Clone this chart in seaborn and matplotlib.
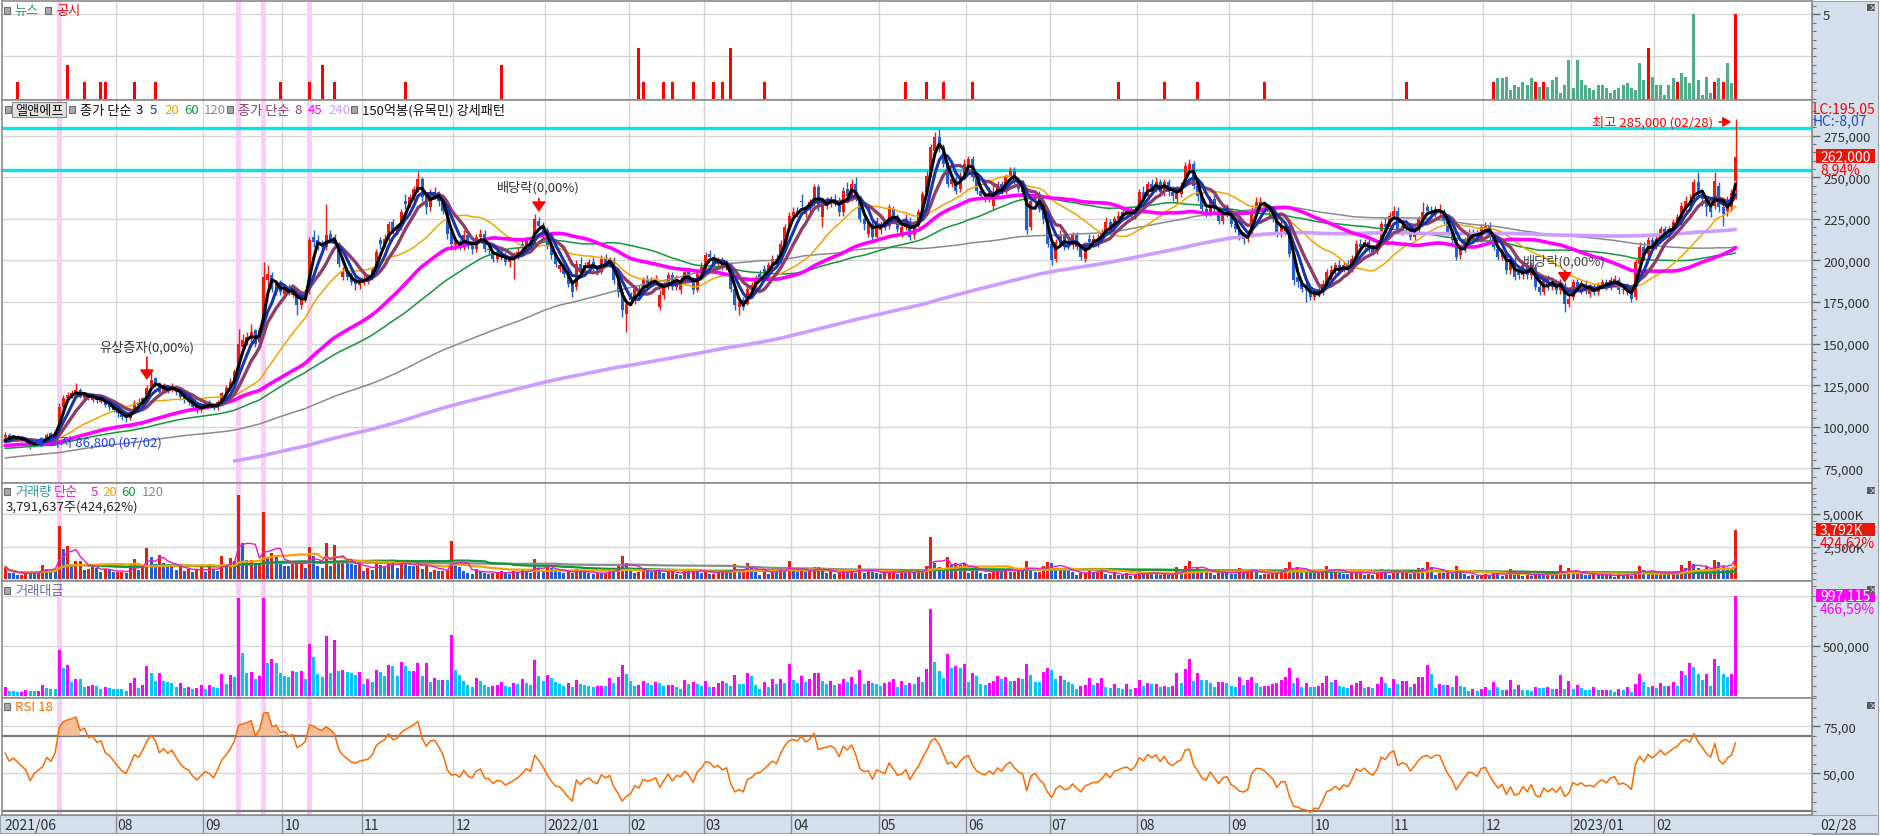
import numpy as np
import pandas as pd
import matplotlib
matplotlib.use("Agg")
import matplotlib.pyplot as plt
from matplotlib.patches import Rectangle
from matplotlib.lines import Line2D
from matplotlib.ticker import MultipleLocator, FixedLocator, FuncFormatter
import seaborn as sns

sns.set_theme(style="white")
plt.rcParams['font.family'] = ['Noto Sans CJK KR', 'DejaVu Sans']
plt.rcParams['axes.unicode_minus'] = False

# 월별 거래일 수 (2021/06/24 ~ 2023/02/28)
MONTH_LABELS = ["2021/06", "", "08", "09", "10", "11", "12", "2022/01", "02", "03", "04", "05",
                "06", "07", "08", "09", "10", "11", "12", "2023/01", "02"]
MONTH_DAYS = [5, 22, 21, 19, 19, 22, 22, 20, 18, 21, 21, 21, 20, 21, 22, 20, 19, 22, 21, 20, 20]

# 화면 이전 종가 (천원) - 이동평균 계산용
PRIOR_CLOSE = [
    44, 43, 45, 44, 46, 45, 44, 46, 47, 46, 45, 44, 45, 47, 48, 47, 46, 45, 46, 47,
    48, 47, 49, 48, 47, 48, 50, 49, 48, 47, 46, 47, 48, 49, 48, 47, 48, 50, 51, 50,
    49, 48, 49, 50, 49, 51, 52, 51, 50, 52, 53, 52, 51, 50, 51, 53, 54, 53, 52, 54,
    55, 54, 53, 55, 56,
    58, 60, 59, 61, 63, 62, 64, 66, 65, 67, 66, 68, 70, 69, 71, 70, 72, 71, 73, 72,
    74, 73, 75, 77, 76, 74, 75, 77, 78, 76, 77, 79, 78, 80, 79, 78, 80, 82, 81, 79,
    80, 82, 83, 81, 82, 84, 83, 85, 84, 82, 83, 85, 86, 84, 85,
    84, 82, 81, 80, 79, 81, 83, 82, 80, 79, 78, 80, 81, 83, 82, 80, 82, 84, 83, 86,
    85, 87, 86, 88, 87, 85, 86, 88, 89, 87, 86, 85, 87, 88, 86, 85, 87, 89, 88, 86,
    87, 88, 86, 87, 88,
    88, 89, 91, 90, 92, 91, 93, 92, 90, 91, 92, 93, 91, 90, 92, 91, 89, 90, 91,
]

# 일봉 시가/고가/저가/종가 (천원), 월 단위 줄
OPEN = [
    94, 95, 93, 94, 93,
    92, 91, 88, 90, 91, 92, 96, 94, 97, 112, 117, 119, 120, 122, 117, 119, 116, 118, 115, 117, 113, 112,
    110, 108, 106, 105, 109, 115, 113, 117, 123, 129, 126, 121, 124, 122, 124, 121, 118, 117, 115, 112, 110,
    112, 115, 113, 111, 115, 120, 123, 127, 134, 148, 151, 153, 158, 151, 158, 188, 191, 181, 186,
    180, 184, 179, 182, 173, 176, 182, 214, 212, 209, 208, 216, 214, 210, 190, 194, 191, 189, 185,
    187, 188, 190, 194, 212, 210, 213, 223, 217, 220, 236, 234, 238, 243, 249, 239, 232, 240, 241, 236, 230, 217,
    209, 211, 208, 215, 209, 207, 214, 216, 207, 204, 201, 205, 203, 199, 201, 203, 210, 208, 211, 210, 224, 221,
    218, 209, 203, 195, 197, 192, 186, 184, 198, 193, 197, 199, 195, 193, 201, 198, 200, 188, 181, 168,
    178, 176, 183, 180, 188, 186, 187, 172, 179, 185, 191, 184, 182, 188, 193, 189, 182, 192,
    196, 204, 202, 198, 200, 196, 198, 183, 172, 176, 174, 182, 185, 192, 195, 193, 197, 201, 199, 210, 220,
    227, 230, 236, 228, 231, 235, 244, 226, 233, 234, 237, 236, 229, 243, 238, 246, 237, 225, 216, 222, 214,
    218, 223, 221, 231, 226, 216, 220, 224, 215, 222, 230, 241, 252, 266, 274, 268, 257, 246, 249, 243, 252,
    257, 261, 249, 242, 239, 237, 233, 239, 246, 242, 250, 254, 248, 243, 240, 220, 237, 240, 231, 225,
    210, 201, 210, 215, 211, 209, 215, 208, 201, 213, 211, 210, 213, 217, 223, 219, 225, 227, 229, 230, 227,
    231, 241, 239, 246, 243, 247, 241, 247, 241, 237, 240, 248, 255, 258, 245, 239, 231, 229, 237, 231, 224, 228,
    229, 222, 219, 215, 213, 216, 230, 233, 231, 232, 229, 225, 216, 217, 221, 203, 190, 186, 185, 182,
    178, 183, 181, 186, 190, 194, 197, 195, 198, 195, 201, 210, 208, 211, 207, 206, 212, 222, 220,
    227, 230, 217, 222, 220, 214, 219, 225, 232, 230, 228, 229, 229, 224, 217, 212, 203, 207, 212, 217, 216, 213,
    218, 221, 214, 207, 202, 204, 194, 200, 194, 191, 197, 191, 196, 184, 181, 189, 184, 187, 182, 185, 174,
    178, 187, 182, 186, 180, 183, 181, 185, 187, 184, 187, 188, 182, 183, 181, 178, 198, 208, 204, 212,
    209, 213, 219, 215, 219, 223, 223, 232, 233, 237, 247, 241, 237, 232, 233, 245, 232, 230, 232, 248,
]
HIGH = [
    97, 96, 95, 95, 94,
    93, 92, 91, 92, 93, 96, 97, 98, 114, 119, 121, 122, 126, 123, 121, 120, 119, 119, 118, 118, 115, 113,
    111, 109, 107, 110, 116, 117, 118, 125, 133, 130, 127, 126, 125, 126, 125, 122, 119, 118, 116, 113, 114,
    116, 116, 114, 116, 121, 125, 129, 135, 159, 156, 157, 162, 159, 160, 199, 197, 193, 188, 188,
    185, 186, 184, 183, 178, 183, 214, 218, 215, 212, 234, 218, 216, 211, 196, 196, 193, 191, 190,
    191, 192, 196, 207, 214, 216, 224, 225, 222, 231, 240, 240, 245, 254, 250, 241, 243, 244, 242, 238, 232, 219,
    214, 213, 218, 217, 211, 216, 219, 218, 210, 206, 207, 207, 205, 203, 205, 208, 212, 214, 213, 228, 226, 223,
    220, 211, 205, 200, 199, 194, 188, 200, 202, 199, 201, 202, 197, 203, 204, 202, 202, 191, 183, 177,
    181, 185, 185, 190, 191, 190, 191, 182, 187, 193, 193, 191, 190, 196, 196, 190, 194, 199,
    205, 206, 204, 202, 202, 200, 199, 185, 177, 178, 185, 187, 191, 194, 197, 199, 203, 204, 212, 222, 229,
    232, 232, 240, 233, 237, 246, 246, 236, 238, 239, 240, 238, 244, 247, 249, 250, 239, 228, 225, 224, 226,
    224, 225, 234, 233, 228, 222, 228, 226, 224, 231, 242, 254, 270, 277, 279, 270, 259, 252, 251, 253, 261,
    263, 263, 251, 244, 241, 244, 246, 248, 248, 252, 256, 256, 250, 246, 242, 240, 242, 242, 233, 227,
    212, 213, 218, 217, 213, 217, 217, 210, 211, 216, 215, 216, 219, 226, 225, 227, 230, 231, 232, 232, 233,
    243, 245, 248, 249, 250, 249, 249, 249, 245, 245, 247, 259, 261, 260, 248, 241, 234, 239, 240, 233, 232, 234,
    231, 225, 221, 217, 217, 232, 238, 238, 236, 234, 231, 227, 224, 224, 223, 205, 193, 188, 187, 184,
    183, 185, 188, 195, 197, 199, 200, 199, 200, 203, 212, 213, 213, 213, 209, 212, 224, 226, 229,
    233, 232, 223, 224, 222, 221, 227, 235, 234, 233, 233, 234, 231, 226, 219, 214, 209, 214, 219, 219, 218, 222,
    223, 223, 216, 209, 207, 206, 202, 202, 196, 199, 199, 199, 198, 187, 191, 191, 189, 189, 189, 187, 180,
    189, 189, 188, 188, 186, 186, 187, 189, 189, 190, 191, 190, 185, 185, 183, 201, 211, 211, 214, 214,
    215, 221, 221, 221, 225, 228, 235, 239, 240, 249, 253, 243, 239, 236, 253, 247, 235, 239, 243, 285,
]
LOW = [
    93, 92, 92, 92, 91,
    90, 86.8, 88, 89, 90, 91, 93, 93, 96, 110, 115, 117, 119, 117, 115, 116, 115, 114, 114, 112, 110, 109,
    106, 104, 103, 104, 108, 111, 112, 116, 122, 124, 120, 120, 120, 121, 119, 116, 114, 113, 110, 108, 109,
    111, 112, 110, 110, 114, 119, 122, 126, 133, 146, 149, 151, 148, 150, 157, 184, 181, 179, 179,
    178, 179, 178, 167, 171, 175, 180, 208, 206, 205, 206, 211, 208, 196, 188, 188, 185, 182, 183,
    185, 186, 188, 193, 207, 208, 211, 216, 215, 218, 231, 232, 236, 241, 236, 228, 230, 237, 233, 228, 213, 206,
    206, 206, 206, 207, 204, 205, 212, 205, 203, 199, 199, 200, 197, 196, 189, 201, 206, 206, 208, 209, 219, 213,
    207, 201, 196, 193, 190, 184, 178, 182, 191, 191, 195, 193, 191, 192, 196, 196, 186, 178, 166, 157,
    173, 174, 178, 179, 184, 184, 185, 170, 177, 183, 182, 182, 180, 186, 187, 180, 181, 190,
    194, 200, 196, 196, 194, 194, 181, 170, 167, 170, 173, 180, 183, 188, 191, 191, 195, 196, 198, 208, 218,
    224, 226, 232, 226, 229, 233, 230, 220, 231, 232, 233, 227, 227, 237, 236, 236, 223, 218, 214, 211, 212,
    216, 218, 219, 224, 217, 214, 218, 212, 213, 220, 229, 239, 250, 264, 265, 256, 244, 244, 240, 241, 250,
    255, 248, 240, 237, 235, 235, 231, 237, 240, 240, 248, 246, 241, 239, 216, 218, 235, 229, 222, 208,
    197, 199, 208, 206, 207, 207, 206, 200, 199, 209, 209, 208, 211, 216, 216, 217, 223, 225, 227, 225, 225,
    229, 236, 237, 241, 241, 239, 239, 239, 236, 235, 238, 246, 253, 243, 236, 229, 226, 227, 229, 222, 222, 226,
    220, 217, 212, 210, 211, 214, 228, 231, 229, 227, 223, 214, 214, 215, 202, 185, 184, 181, 175, 176,
    176, 178, 179, 184, 188, 192, 191, 193, 193, 193, 199, 205, 206, 205, 203, 204, 210, 217, 218,
    225, 216, 215, 218, 212, 212, 217, 223, 228, 226, 226, 227, 222, 215, 209, 200, 201, 205, 210, 214, 211, 211,
    216, 212, 206, 200, 200, 192, 192, 188, 189, 189, 189, 189, 182, 179, 179, 182, 182, 180, 180, 169, 172,
    176, 182, 180, 180, 178, 179, 179, 183, 182, 182, 185, 180, 180, 179, 175, 176, 196, 200, 202, 207,
    207, 211, 213, 213, 217, 221, 221, 230, 230, 235, 237, 233, 227, 226, 231, 229, 221, 227, 230, 237,
]
CLOSE = [
    95, 93, 94, 93, 92,
    91, 88, 90, 91, 92, 95, 94, 97, 112, 117, 119, 120, 122, 118, 120, 117, 118, 116, 117, 113, 112, 110,
    108, 106, 105, 109, 114, 113, 117, 123, 128, 126, 121, 124, 122, 124, 121, 118, 116, 115, 112, 110, 112,
    114, 113, 111, 115, 120, 123, 127, 133, 150, 152, 154, 157, 150, 158, 190, 192, 183, 186, 181,
    183, 180, 182, 173, 176, 181, 212, 211, 209, 208, 215, 213, 210, 198, 193, 190, 187, 186, 188,
    189, 190, 194, 205, 210, 213, 222, 218, 220, 229, 234, 238, 243, 249, 238, 232, 240, 241, 236, 230, 216, 210,
    211, 208, 215, 209, 207, 214, 216, 207, 206, 201, 204, 203, 199, 201, 203, 205, 208, 212, 210, 225, 221, 216,
    209, 203, 198, 197, 192, 186, 181, 198, 193, 197, 199, 195, 193, 201, 198, 200, 188, 181, 170, 174,
    176, 183, 180, 188, 186, 187, 189, 179, 185, 191, 184, 189, 188, 193, 189, 182, 192, 196,
    203, 202, 198, 200, 196, 198, 183, 173, 175, 172, 183, 185, 189, 190, 193, 197, 201, 199, 210, 220, 227,
    229, 228, 235, 231, 235, 244, 232, 234, 235, 237, 235, 229, 242, 239, 246, 238, 225, 222, 223, 214, 224,
    222, 220, 232, 226, 219, 220, 225, 214, 222, 229, 240, 251, 268, 274, 268, 258, 246, 249, 242, 251, 258,
    261, 250, 242, 239, 237, 242, 238, 246, 242, 250, 254, 248, 243, 241, 218, 236, 240, 231, 225, 210,
    200, 211, 215, 208, 209, 215, 208, 202, 209, 211, 213, 213, 217, 223, 218, 225, 227, 229, 230, 227, 231,
    241, 238, 246, 243, 247, 241, 247, 241, 239, 243, 245, 257, 258, 245, 239, 231, 229, 237, 231, 224, 230, 231,
    222, 219, 214, 213, 215, 230, 235, 235, 233, 229, 225, 216, 221, 221, 204, 188, 187, 183, 182, 178,
    181, 180, 186, 193, 194, 197, 193, 197, 195, 201, 210, 208, 211, 207, 205, 210, 222, 220, 227,
    230, 218, 221, 220, 214, 219, 225, 229, 230, 228, 231, 231, 224, 217, 212, 202, 207, 212, 217, 216, 213, 220,
    221, 214, 208, 202, 205, 194, 200, 190, 191, 197, 191, 197, 184, 181, 189, 184, 187, 182, 187, 174, 177,
    187, 184, 186, 182, 183, 181, 185, 187, 184, 188, 189, 182, 183, 181, 177, 199, 208, 203, 212, 209,
    213, 219, 215, 219, 223, 226, 233, 236, 234, 247, 241, 237, 232, 229, 248, 232, 228, 236, 240.5, 262,
]
# 거래량 (천주)
VOLUME = [
    950, 466, 461, 358, 362,
    623, 492, 481, 549, 1123, 807, 745, 687, 4047, 2336, 2549, 1111, 1366, 1412, 694, 826, 932, 862, 541, 796, 684, 576,
    586, 597, 476, 1131, 1520, 678, 940, 2385, 1745, 1137, 1846, 1210, 1093, 994, 744, 1073, 661, 783, 565, 697, 982,
    556, 914, 751, 667, 1805, 948, 1601, 1428, 6488, 2807, 1450, 1507, 1111, 1224, 5122, 1684, 1985, 1738, 1234,
    1056, 1018, 1337, 1349, 1420, 902, 2437, 1816, 1037, 881, 2760, 1048, 2634, 1229, 1312, 1228, 1194, 1093, 1241,
    600, 877, 687, 1236, 1111, 908, 1366, 1345, 879, 1455, 1253, 1022, 1001, 1298, 812, 1393, 556, 719, 650, 667, 710, 2900,
    1200, 977, 667, 494, 402, 810, 663, 499, 404, 464, 508, 657, 469, 415, 607, 553, 785, 582, 492, 1585, 875, 663,
    973, 854, 673, 575, 486, 663, 460, 774, 587, 524, 469, 427, 478, 464, 471, 867, 656, 1013, 1784, 1226,
    814, 510, 574, 762, 663, 553, 705, 689, 504, 541, 562, 441, 337, 794, 600, 733, 608, 476,
    706, 412, 421, 617, 731, 623, 510, 1175, 648, 659, 1220, 1045, 547, 333, 691, 423, 813, 570, 778, 561, 1380,
    670, 541, 823, 577, 695, 915, 963, 612, 482, 605, 440, 495, 675, 558, 745, 476, 1126, 510, 643, 576, 506,
    420, 561, 575, 723, 380, 651, 459, 576, 510, 800, 556, 1049, 3221, 1216, 908, 672, 1680, 1098, 1212, 1089, 1214,
    511, 893, 799, 474, 436, 510, 602, 786, 675, 733, 564, 578, 713, 678, 1437, 862, 556, 577, 1037, 1301,
    1267, 774, 899, 737, 638, 527, 305, 462, 494, 821, 485, 579, 799, 374, 336, 504, 323, 300, 493, 279, 317,
    636, 392, 501, 466, 459, 346, 378, 346, 390, 919, 503, 1025, 1408, 585, 934, 664, 669, 520, 361, 595, 580, 534,
    420, 380, 857, 485, 713, 797, 525, 355, 400, 407, 504, 571, 694, 830, 1340, 656, 927, 455, 678, 468,
    460, 518, 663, 1002, 687, 778, 484, 423, 376, 514, 587, 689, 348, 403, 358, 540, 826, 561, 323,
    710, 520, 648, 651, 389, 533, 844, 830, 1348, 936, 317, 505, 491, 507, 424, 990, 451, 393, 230, 309, 235, 303,
    377, 280, 673, 446, 276, 292, 800, 351, 576, 288, 297, 237, 489, 442, 423, 489, 374, 385, 1123, 402, 847,
    374, 598, 430, 330, 328, 497, 306, 303, 308, 301, 212, 385, 310, 497, 226, 603, 1042, 690, 424, 478,
    376, 594, 465, 457, 628, 442, 1073, 890, 1410, 1174, 899, 675, 934, 437, 1492, 1293, 965, 805, 893, 3792,
]

# 공시 / 뉴스 건수
DISC_DAYS = [3, 15, 19, 23, 24, 31, 36, 66, 73, 76, 79, 96, 119, 152, 153, 158, 160, 165, 170, 172, 174,
             182, 216, 221, 225, 232, 267, 278, 286, 302, 336, 357, 367, 369, 394, 401, 410, 412, 415]
DISC_VALS = [1, 2, 1, 1, 1, 1, 1, 1, 1, 2, 1, 1, 2, 3, 1, 1, 1, 1, 1, 1, 3,
             1, 1, 1, 1, 1, 1, 1, 1, 1, 1, 1, 1, 1, 3, 1, 1, 1, 5]
NEWS_DAYS = [358, 359, 360, 361, 362, 363, 364, 365, 366, 368, 370, 371, 372, 373, 374, 375, 376, 377,
             378, 379, 380, 381, 382, 383, 384, 385, 386, 387, 388, 389, 390, 391, 392, 393, 395, 396,
             397, 398, 399, 400, 402, 403, 404, 405, 406, 407, 408, 409, 411, 413, 414]
NEWS_VALS = [1.2, 1.2, 1.3, 0.5, 0.8, 0.7, 1.0, 0.8, 1.2, 0.7, 0.7, 1.1, 1.3, 0.3, 0.8, 2.3, 0.6, 2.3,
             1.1, 0.8, 0.6, 0.5, 0.8, 0.8, 0.6, 0.3, 0.5, 0.6, 0.8, 0.9, 0.6, 0.5, 2.1, 1.1, 1.3, 0.8,
             0.8, 0.2, 0.8, 1.2, 1.5, 1.3, 0.9, 5.0, 1.1, 0.2, 1.3, 0.3, 1.2, 2.1, 0.9]

# 150억봉 신호일 및 RSI 강조 구간
HIGHLIGHT_DAYS = [13, 56, 62, 73]
RSI_FILL_RANGES = [(12, 18), (55, 65), (72, 78)]
CYAN_LEVELS = [279600, 254400]

n = len(CLOSE)
assert n == sum(MONTH_DAYS) == len(OPEN) == len(HIGH) == len(LOW) == len(VOLUME)

RED, BLUE = '#ec1c0c', '#1f5fcf'
MAG, CYAN = '#ff00ff', '#00c6f2'
GRID, FRAME = '#d6d6d6', '#8c8c8c'
PANEL_BG = '#d6e0ec'

day = np.arange(n)
o = np.array(OPEN, float) * 1000
c = np.array(CLOSE, float) * 1000
h = np.maximum(np.array(HIGH, float) * 1000, np.maximum(o, c))
l = np.minimum(np.array(LOW, float) * 1000, np.minimum(o, c))
vol = np.array(VOLUME, float)
value = vol * c / 1000  # 백만원

full = pd.Series(PRIOR_CLOSE + CLOSE, dtype=float) * 1000
df = pd.DataFrame({'day': day})
for w in [3, 5, 8, 20, 45, 60, 120, 240]:
    df[f'ma{w}'] = full.rolling(w).mean().iloc[-n:].to_numpy()
vs = pd.Series(vol)
for w in [5, 20, 60, 120]:
    df[f'vma{w}'] = vs.rolling(w, min_periods=1).mean().to_numpy()
delta = full.diff()
gain = delta.clip(lower=0).ewm(alpha=1 / 18, adjust=False).mean()
loss = (-delta.clip(upper=0)).ewm(alpha=1 / 18, adjust=False).mean()
df['rsi'] = (100 * gain / (gain + loss)).iloc[-n:].to_numpy()

# ---- figure layout (pixel based) ----
W, H = 1880, 837
fig = plt.figure(figsize=(W / 100, H / 100), dpi=100)
fig.patch.set_facecolor('white')


def fx(x):
    return x / W


def fy(y):
    return 1 - y / H


def px_axes(y0, y1, x0=2, x1=1812):
    return fig.add_axes([fx(x0), fy(y1), (x1 - x0) / W, (y1 - y0) / H])


def lim(va, ya, vb, yb, top, bottom):
    k = (vb - va) / (yb - ya)
    return va + (bottom - ya) * k, va + (top - ya) * k


def day_px(x):
    return (x - 3) / 4.17 - 0.5


# right scale panel & bottom strip
fig.add_artist(Rectangle((fx(1812), fy(835)), 66 / W, 833 / H, transform=fig.transFigure,
                         fc=PANEL_BG, ec='#9aa4b0', lw=0.8, zorder=0))
fig.add_artist(Rectangle((fx(0), fy(834)), 1878 / W, 18 / H, transform=fig.transFigure,
                         fc=PANEL_BG, ec='#9aa4b0', lw=0.8, zorder=0))

ax_n = px_axes(2, 101)
ax_p = px_axes(101, 484)
ax_v = px_axes(484, 582)
ax_t = px_axes(582, 699)
ax_r = px_axes(699, 816)
axes = [ax_n, ax_p, ax_v, ax_t, ax_r]

starts = np.cumsum([0] + MONTH_DAYS[:-1])
xlim = (day_px(2), day_px(1812))

for ax in axes:
    ax.set_facecolor('white')
    ax.set_xlim(*xlim)
    ax.set_xticks([])
    for s in ax.spines.values():
        s.set_color(FRAME)
        s.set_linewidth(1.2)
    for st in starts[2:]:
        ax.axvline(st - 0.5, color=GRID, lw=1, zorder=0)
    for d in HIGHLIGHT_DAYS:
        ax.axvspan(d - 0.55, d + 0.55, color='#fccdf6', lw=0, zorder=0.5)
    ax.yaxis.tick_right()
    ax.tick_params(axis='y', which='major', length=6, width=1, color='#666', labelsize=9.5,
                   labelcolor='#333', pad=2, right=True, left=False)
    ax.tick_params(axis='y', which='minor', length=3, width=0.8, color='#777', right=True, left=False)

# ---- news / disclosure ----
ax_n.set_ylim(*lim(0, 99.5, 5, 15.3, 2, 101))
for g in [2.5, 5]:
    ax_n.axhline(g, color=GRID, lw=1, zorder=0)
ax_n.bar(NEWS_DAYS, NEWS_VALS, width=0.72, color='#4daf88', lw=0, zorder=3)
ax_n.bar(DISC_DAYS, DISC_VALS, width=0.72, color='#ff0000', lw=0, zorder=3)
ax_n.yaxis.set_major_locator(FixedLocator([5]))
ax_n.yaxis.set_minor_locator(MultipleLocator(0.5))
ax_n.yaxis.set_major_formatter(FuncFormatter(lambda v, p: f"{v:.0f}"))

# ---- price ----
ax_p.set_ylim(*lim(275000, 136.7, 75000, 469.3, 101, 484))
for g in range(75000, 300000, 25000):
    ax_p.axhline(g, color=GRID, lw=1, zorder=0)
for lv in CYAN_LEVELS:
    ax_p.axhline(lv, color='#00e6ef', lw=2.4, zorder=2)
up = c >= o
cols = np.where(up, RED, BLUE)
ax_p.vlines(day, l, h, colors=cols, lw=1, zorder=3)
ax_p.bar(day, np.maximum(np.abs(c - o), 700), bottom=np.minimum(o, c), width=0.72,
         color=cols, lw=0, zorder=3)
MA_STYLE = [(120, '#8a8a8a', 1.1), (60, '#13963a', 1.1), (20, '#f2a400', 1.1), (240, '#cc9cff', 2.6),
            (45, '#ff00ff', 2.6), (8, '#8e3c68', 2.4), (5, '#1535b0', 2.2), (3, '#000000', 2.2)]
for w, col, lw in MA_STYLE:
    sns.lineplot(data=df, x='day', y=f'ma{w}', ax=ax_p, color=col, linewidth=lw, zorder=5, legend=False)
ax_p.yaxis.set_major_locator(MultipleLocator(25000))
ax_p.yaxis.set_minor_locator(MultipleLocator(5000))
ax_p.yaxis.set_major_formatter(FuncFormatter(lambda v, p: f"{v:,.0f}"))

# annotations
ARROW = dict(arrowstyle='-|>,head_width=0.35,head_length=0.5', color='#ff0000', lw=1.2)
ax_p.annotate('', xy=(34, 126500), xytext=(34, 143500), arrowprops=ARROW, zorder=7)
ax_p.text(34, 148000, '유상증자(0,00%)', ha='center', va='center', fontsize=9.5, color='#333', zorder=7)
ax_p.annotate('', xy=(128, 227500), xytext=(128, 239000), arrowprops=ARROW, zorder=7)
ax_p.text(128, 244200, '배당락(0,00%)', ha='center', va='center', fontsize=9.5, color='#333', zorder=7)
ax_p.annotate('', xy=(374, 185000), xytext=(374, 195500), arrowprops=ARROW, zorder=7)
ax_p.text(374, 199800, '배당락(0,00%)', ha='center', va='center', fontsize=9.5, color='#444', zorder=7)
ax_p.annotate('최저 86,800 (07/02)', xy=(6.2, 90800), xytext=(10.2, 90800), ha='left', va='center',
              fontsize=9.5, color='#1a3fe0', zorder=7,
              arrowprops=dict(arrowstyle='-|>,head_width=0.3,head_length=0.5', color='#1a3fe0', lw=1.2))
ax_p.annotate('최고 285,000 (02/28)', xy=(414.6, 283300), xytext=(409.6, 283300), ha='right', va='center',
              fontsize=9.5, color='#ff0000', zorder=7,
              arrowprops=dict(arrowstyle='-|>,head_width=0.3,head_length=0.5', color='#ff0000', lw=1.2))

# ---- volume ----
ax_v.set_ylim(*lim(0, 580.3, 5000, 515, 484, 582))
for g in [2500, 5000]:
    ax_v.axhline(g, color=GRID, lw=1, zorder=0)
vcol = np.where(np.r_[True, vol[1:] >= vol[:-1]], RED, BLUE)
ax_v.bar(day, vol, width=0.72, color=vcol, lw=0, zorder=3)
for w, col in [(120, '#8a8a8a'), (60, '#13963a'), (20, '#f2a400'), (5, '#e21ec8')]:
    sns.lineplot(data=df, x='day', y=f'vma{w}', ax=ax_v, color=col,
                 linewidth=1.0 if w == 5 else 1.6, zorder=5, legend=False)
ax_v.yaxis.set_major_locator(FixedLocator([2500, 5000]))
ax_v.yaxis.set_minor_locator(MultipleLocator(500))
ax_v.yaxis.set_major_formatter(FuncFormatter(lambda v, p: f"{v:,.0f}K"))

# ---- trading value ----
ax_t.set_ylim(*lim(0, 696.7, 500000, 646.7, 582, 699))
for g in [500000, 1000000]:
    ax_t.axhline(g, color=GRID, lw=1, zorder=0)
tcol = np.where(np.r_[True, value[1:] >= value[:-1]], MAG, CYAN)
ax_t.bar(day, value, width=0.72, color=tcol, lw=0, zorder=3)
ax_t.yaxis.set_major_locator(FixedLocator([500000]))
ax_t.yaxis.set_minor_locator(MultipleLocator(100000))
ax_t.yaxis.set_major_formatter(FuncFormatter(lambda v, p: f"{v:,.0f}"))

# ---- RSI ----
ax_r.set_ylim(*lim(50, 774.3, 75, 727.3, 699, 816))
for g in [75, 50]:
    ax_r.axhline(g, color=GRID, lw=1, zorder=0)
for g in [70, 30]:
    ax_r.axhline(g, color='#7a7a7a', lw=1.6, zorder=1)
rsi = df['rsi'].to_numpy()
in_sig = np.zeros(n, bool)
for a, b in RSI_FILL_RANGES:
    in_sig |= (day >= a) & (day <= b)
ax_r.fill_between(day, 70, rsi, where=(rsi > 70) & in_sig, interpolate=True,
                  color='#f5bd98', lw=0, zorder=2)
sns.lineplot(data=df, x='day', y='rsi', ax=ax_r, color='#ff6a00', linewidth=1.1, zorder=4, legend=False)
ax_r.yaxis.set_major_locator(FixedLocator([50, 75]))
ax_r.yaxis.set_minor_locator(MultipleLocator(5))
ax_r.yaxis.set_major_formatter(FuncFormatter(lambda v, p: f"{v:.2f}".replace('.', ',')))

for ax in axes:
    ax.set_xlabel('')
    ax.set_ylabel('')
    ax.set_xlim(*xlim)


# ---- texts ----
def put(x, y, s, color='#222', size=9.5, **kw):
    fig.text(fx(x), fy(y), s, color=color, fontsize=size, ha='left', va='center', **kw)


def square(x, y, w=6, hh=7):
    fig.add_artist(Rectangle((fx(x), fy(y + hh)), w / W, hh / H, transform=fig.transFigure,
                             fc='#a8a8a8', ec='#6e6e6e', lw=0.8, zorder=20))


def box(x0, y0, x1, y1, col):
    fig.add_artist(Rectangle((fx(x0), fy(y1)), (x1 - x0) / W, (y1 - y0) / H, transform=fig.transFigure,
                             fc=col, ec='none', zorder=20))


def close_icon(y):
    box(1867, y, 1875, y + 7, '#5a5a5a')
    put(1868.2, y + 3.3, '×', color='white', size=6, zorder=21)


# news legend
square(4, 8)
put(14, 12, '뉴스', '#2f9c78')
square(45, 8)
put(56, 12, '공시', '#ff0000')
close_icon(5)

# price legend
square(5, 107)
fig.add_artist(Rectangle((fx(12), fy(118)), 54 / W, 15 / H, transform=fig.transFigure,
                         fc='#e2e2e2', ec='#8a8a8a', lw=0.8, zorder=20))
put(15, 111, '엘앤에프', '#111', zorder=21)
square(69, 107)
put(80, 111, '종가 단순', '#111')
put(136, 111, '3', '#111')
put(150, 111, '5', '#1535b0')
put(164, 111, '20', '#f2a400')
put(184, 111, '60', '#13963a')
put(204, 111, '120', '#8a8a8a')
square(227, 107)
put(238, 111, '종가 단순', '#8e3c68')
put(294, 111, '8', '#8e3c68')
put(308, 111, '45', '#ff00ff')
put(328, 111, '240', '#cc9cff')
square(351, 107)
put(362, 111, '150억봉(유목민) 강세패턴', '#111')

put(1813, 109, 'LC:195,05', '#ff0000', 10)
put(1813, 121, 'HC:-8,07', '#1a4fd0', 10)
box(1816, 150, 1875, 164, '#e8170b')
put(1820, 157, '262,000', 'white', 10, zorder=21)
box(1816, 165, 1875, 172, PANEL_BG)
put(1820, 170, '8,94%', '#ff0000', 10, zorder=21)

# volume legend
square(4, 489)
put(15, 493, '거래량', '#2f9c9c')
put(54, 493, '단순', '#e21ec8')
put(91, 493, '5', '#e21ec8')
put(102, 493, '20', '#f2a400')
put(121, 493, '60', '#13963a')
put(142, 493, '120', '#8a8a8a')
put(6, 507, '3,791,637주(424,62%)', '#222')
box(1816, 524, 1875, 537, '#e8170b')
put(1820, 530.5, '3,792K', 'white', 10, zorder=21)
box(1816, 538, 1875, 545, PANEL_BG)
put(1820, 543, '424,62%', '#ff0000', 10, zorder=21)
close_icon(488)

# trading value legend
square(4, 588)
put(15, 592, '거래대금', '#6b6b9b')
box(1816, 590, 1875, 603, '#ff00ff')
put(1820, 596.5, '997,115', 'white', 10, zorder=21)
put(1820, 609, '466,59%', '#ff00ff', 10, zorder=21)
close_icon(587)

# RSI legend
square(4, 704)
put(15, 708, 'RSI 18', '#ff6a00')
close_icon(703)

# bottom month labels
for i, (st, lab) in enumerate(zip(starts, MONTH_LABELS)):
    if not lab:
        continue
    xg = 3 + st * 4.17 if i > 0 else 2
    if i > 0:
        fig.add_artist(Line2D([fx(xg), fx(xg)], [fy(816), fy(834)], transform=fig.transFigure,
                              color='#8c8c8c', lw=1, zorder=5))
    put(xg + 2, 826, lab, '#333', 10)
put(1820, 826, '02/28', '#333', 10)

fig.savefig('out.png', dpi=100, facecolor='white')
